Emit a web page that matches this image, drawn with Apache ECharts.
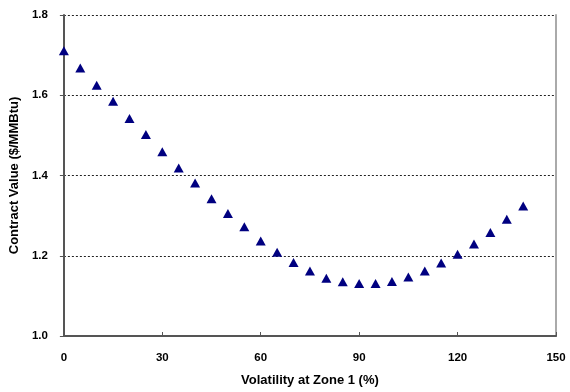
<!DOCTYPE html>
<html>
<head>
<meta charset="utf-8">
<script src="https://cdn.jsdelivr.net/npm/echarts@6/dist/echarts.min.js"></script>
<style>
  html, body { margin: 0; padding: 0; background: #fff; }
  #chart { width: 570px; height: 392px; }
</style>
</head>
<body>
<div id="chart"></div>
<script>
// Volatility at zone 1 (%) and the resulting contract value ($/MMBtu)
const volatility = [0, 5, 10, 15, 20, 25, 30, 35, 40, 45, 50, 55, 60, 65, 70,
  75, 80, 85, 90, 95, 100, 105, 110, 115, 120, 125, 130, 135, 140];
const contractValue = [1.711, 1.668, 1.625, 1.585, 1.542, 1.502, 1.459, 1.419, 1.381, 1.342,
  1.305, 1.272, 1.237, 1.209, 1.183, 1.162, 1.144, 1.135, 1.131, 1.131,
  1.136, 1.147, 1.162, 1.182, 1.204, 1.229, 1.258, 1.291, 1.324];

const font = 'Liberation Sans, Arial, sans-serif';
const tickFont = { fontFamily: font, fontWeight: 'bold', fontSize: 11.5, color: '#000' };
const nameFont = { fontFamily: font, fontWeight: 'bold', fontSize: 13, color: '#000' };

const chart = echarts.init(document.getElementById('chart'));

chart.setOption({
  animation: false,
  grid: { left: 61, right: 14, top: 15, bottom: 55 },
  xAxis: {
    type: 'value',
    min: 0,
    max: 150,
    interval: 30,
    name: 'Volatility at Zone 1 (%)',
    nameLocation: 'middle',
    nameGap: 38,
    nameTextStyle: nameFont,
    axisLine: { lineStyle: { color: '#555', width: 2 } },
    axisTick: { inside: true, length: 4, lineStyle: { color: '#555' } },
    axisLabel: Object.assign({ margin: 16 }, tickFont),
    splitLine: { show: false }
  },
  yAxis: [
    {
      type: 'value',
      min: 1.0,
      max: 1.8,
      interval: 0.2,
      name: 'Contract Value ($/MMBtu)',
      nameLocation: 'middle',
      nameGap: 38,
      nameTextStyle: nameFont,
      axisLine: { show: true, lineStyle: { color: '#555', width: 2 } },
      axisTick: { show: true, length: 4, lineStyle: { color: '#555' } },
      axisLabel: Object.assign({ margin: 16, formatter: v => v.toFixed(1) }, tickFont),
      splitLine: { show: true, lineStyle: { color: '#222', type: [2, 2], width: 1 } }
    },
    {
      type: 'value',
      position: 'right',
      min: 1.0,
      max: 1.8,
      interval: 0.2,
      axisLine: { show: true, lineStyle: { color: '#aaa', width: 2 } },
      axisTick: { show: false },
      axisLabel: { show: false },
      splitLine: { show: false }
    }
  ],
  series: [
    {
      type: 'scatter',
      data: volatility.map((v, i) => [v, contractValue[i]]),
      symbol: 'triangle',
      symbolSize: [10, 9],
      itemStyle: { color: '#000080', opacity: 1 }
    }
  ]
});
</script>
</body>
</html>
